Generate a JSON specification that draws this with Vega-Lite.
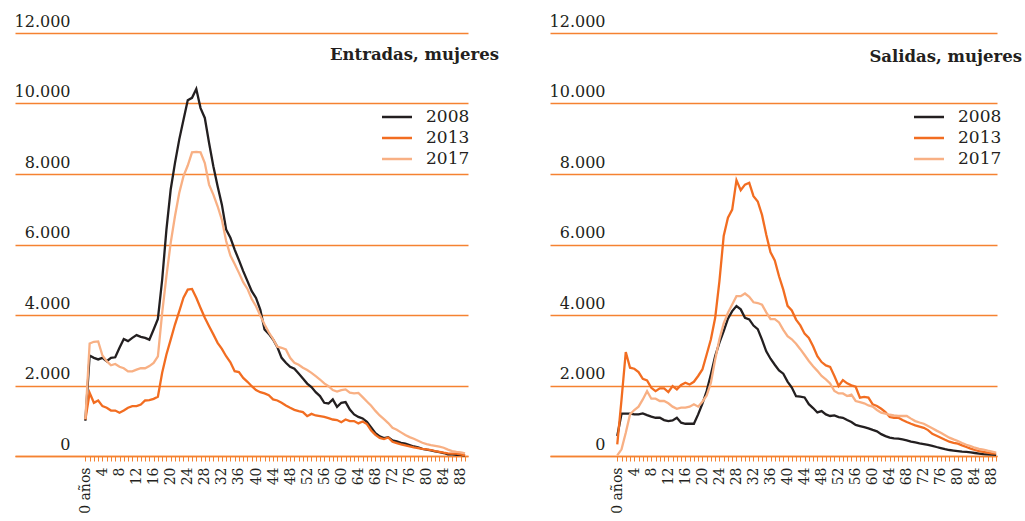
{
"$schema": "https://vega.github.io/schema/vega-lite/v6.json",
"background": "white",
"padding": {"left": 14, "top": 13, "right": 2, "bottom": 2},
"bounds": "flush",
"spacing": 82,
"config": {"view": {"stroke": null}, "font": "DejaVu Serif"},
"resolve": {"scale": {"x": "independent", "y": "independent", "color": "independent"}, "legend": {"color": "independent"}},
"datasets": {
"ent": [
{"a":0,"s":"2008","v":1000},{"a":1,"s":"2008","v":2850},{"a":2,"s":"2008","v":2785},{"a":3,"s":"2008","v":2740},{"a":4,"s":"2008","v":2785},{"a":5,"s":"2008","v":2690},{"a":6,"s":"2008","v":2785},{"a":7,"s":"2008","v":2800},{"a":8,"s":"2008","v":3070},{"a":9,"s":"2008","v":3320},
{"a":10,"s":"2008","v":3260},{"a":11,"s":"2008","v":3350},{"a":12,"s":"2008","v":3430},{"a":13,"s":"2008","v":3380},{"a":14,"s":"2008","v":3350},{"a":15,"s":"2008","v":3300},{"a":16,"s":"2008","v":3590},{"a":17,"s":"2008","v":3890},{"a":18,"s":"2008","v":5000},{"a":19,"s":"2008","v":6420},
{"a":20,"s":"2008","v":7560},{"a":21,"s":"2008","v":8310},{"a":22,"s":"2008","v":8975},{"a":23,"s":"2008","v":9540},{"a":24,"s":"2008","v":10090},{"a":25,"s":"2008","v":10160},{"a":26,"s":"2008","v":10410},{"a":27,"s":"2008","v":9870},{"a":28,"s":"2008","v":9590},{"a":29,"s":"2008","v":8880},
{"a":30,"s":"2008","v":8220},{"a":31,"s":"2008","v":7650},{"a":32,"s":"2008","v":7130},{"a":33,"s":"2008","v":6425},{"a":34,"s":"2008","v":6190},{"a":35,"s":"2008","v":5855},{"a":36,"s":"2008","v":5555},{"a":37,"s":"2008","v":5245},{"a":38,"s":"2008","v":4960},{"a":39,"s":"2008","v":4675},
{"a":40,"s":"2008","v":4485},{"a":41,"s":"2008","v":4155},{"a":42,"s":"2008","v":3590},{"a":43,"s":"2008","v":3465},{"a":44,"s":"2008","v":3305},{"a":45,"s":"2008","v":3090},{"a":46,"s":"2008","v":2785},{"a":47,"s":"2008","v":2645},{"a":48,"s":"2008","v":2530},{"a":49,"s":"2008","v":2475},
{"a":50,"s":"2008","v":2340},{"a":51,"s":"2008","v":2200},{"a":52,"s":"2008","v":2055},{"a":53,"s":"2008","v":1955},{"a":54,"s":"2008","v":1810},{"a":55,"s":"2008","v":1700},{"a":56,"s":"2008","v":1510},{"a":57,"s":"2008","v":1490},{"a":58,"s":"2008","v":1605},{"a":59,"s":"2008","v":1395},
{"a":60,"s":"2008","v":1510},{"a":61,"s":"2008","v":1530},{"a":62,"s":"2008","v":1320},{"a":63,"s":"2008","v":1180},{"a":64,"s":"2008","v":1110},{"a":65,"s":"2008","v":1065},{"a":66,"s":"2008","v":970},{"a":67,"s":"2008","v":810},{"a":68,"s":"2008","v":650},{"a":69,"s":"2008","v":555},
{"a":70,"s":"2008","v":510},{"a":71,"s":"2008","v":535},{"a":72,"s":"2008","v":440},{"a":73,"s":"2008","v":415},{"a":74,"s":"2008","v":375},{"a":75,"s":"2008","v":350},{"a":76,"s":"2008","v":310},{"a":77,"s":"2008","v":270},{"a":78,"s":"2008","v":245},{"a":79,"s":"2008","v":205},
{"a":80,"s":"2008","v":180},{"a":81,"s":"2008","v":160},{"a":82,"s":"2008","v":130},{"a":83,"s":"2008","v":110},{"a":84,"s":"2008","v":85},{"a":85,"s":"2008","v":45},{"a":86,"s":"2008","v":45},{"a":87,"s":"2008","v":35},{"a":88,"s":"2008","v":30},{"a":89,"s":"2008","v":10},
{"a":0,"s":"2013","v":1037},{"a":1,"s":"2013","v":1793},{"a":2,"s":"2013","v":1510},{"a":3,"s":"2013","v":1575},{"a":4,"s":"2013","v":1415},{"a":5,"s":"2013","v":1370},{"a":6,"s":"2013","v":1290},{"a":7,"s":"2013","v":1290},{"a":8,"s":"2013","v":1225},{"a":9,"s":"2013","v":1290},
{"a":10,"s":"2013","v":1370},{"a":11,"s":"2013","v":1415},{"a":12,"s":"2013","v":1415},{"a":13,"s":"2013","v":1460},{"a":14,"s":"2013","v":1575},{"a":15,"s":"2013","v":1585},{"a":16,"s":"2013","v":1620},{"a":17,"s":"2013","v":1680},{"a":18,"s":"2013","v":2360},{"a":19,"s":"2013","v":2880},
{"a":20,"s":"2013","v":3300},{"a":21,"s":"2013","v":3730},{"a":22,"s":"2013","v":4100},{"a":23,"s":"2013","v":4490},{"a":24,"s":"2013","v":4720},{"a":25,"s":"2013","v":4740},{"a":26,"s":"2013","v":4490},{"a":27,"s":"2013","v":4200},{"a":28,"s":"2013","v":3920},{"a":29,"s":"2013","v":3680},
{"a":30,"s":"2013","v":3450},{"a":31,"s":"2013","v":3210},{"a":32,"s":"2013","v":3040},{"a":33,"s":"2013","v":2830},{"a":34,"s":"2013","v":2660},{"a":35,"s":"2013","v":2405},{"a":36,"s":"2013","v":2380},{"a":37,"s":"2013","v":2215},{"a":38,"s":"2013","v":2105},{"a":39,"s":"2013","v":1980},
{"a":40,"s":"2013","v":1870},{"a":41,"s":"2013","v":1810},{"a":42,"s":"2013","v":1775},{"a":43,"s":"2013","v":1725},{"a":44,"s":"2013","v":1605},{"a":45,"s":"2013","v":1575},{"a":46,"s":"2013","v":1510},{"a":47,"s":"2013","v":1435},{"a":48,"s":"2013","v":1370},{"a":49,"s":"2013","v":1310},
{"a":50,"s":"2013","v":1275},{"a":51,"s":"2013","v":1245},{"a":52,"s":"2013","v":1130},{"a":53,"s":"2013","v":1195},{"a":54,"s":"2013","v":1150},{"a":55,"s":"2013","v":1130},{"a":56,"s":"2013","v":1110},{"a":57,"s":"2013","v":1075},{"a":58,"s":"2013","v":1035},{"a":59,"s":"2013","v":1020},
{"a":60,"s":"2013","v":960},{"a":61,"s":"2013","v":1035},{"a":62,"s":"2013","v":990},{"a":63,"s":"2013","v":990},{"a":64,"s":"2013","v":925},{"a":65,"s":"2013","v":980},{"a":66,"s":"2013","v":905},{"a":67,"s":"2013","v":725},{"a":68,"s":"2013","v":600},{"a":69,"s":"2013","v":515},
{"a":70,"s":"2013","v":480},{"a":71,"s":"2013","v":525},{"a":72,"s":"2013","v":405},{"a":73,"s":"2013","v":365},{"a":74,"s":"2013","v":330},{"a":75,"s":"2013","v":300},{"a":76,"s":"2013","v":270},{"a":77,"s":"2013","v":245},{"a":78,"s":"2013","v":225},{"a":79,"s":"2013","v":205},
{"a":80,"s":"2013","v":190},{"a":81,"s":"2013","v":170},{"a":82,"s":"2013","v":140},{"a":83,"s":"2013","v":120},{"a":84,"s":"2013","v":95},{"a":85,"s":"2013","v":75},{"a":86,"s":"2013","v":65},{"a":87,"s":"2013","v":65},{"a":88,"s":"2013","v":45},{"a":89,"s":"2013","v":20},
{"a":0,"s":"2017","v":1050},{"a":1,"s":"2017","v":3190},{"a":2,"s":"2017","v":3240},{"a":3,"s":"2017","v":3250},{"a":4,"s":"2017","v":2850},{"a":5,"s":"2017","v":2690},{"a":6,"s":"2017","v":2575},{"a":7,"s":"2017","v":2610},{"a":8,"s":"2017","v":2530},{"a":9,"s":"2017","v":2490},
{"a":10,"s":"2017","v":2400},{"a":11,"s":"2017","v":2400},{"a":12,"s":"2017","v":2450},{"a":13,"s":"2017","v":2490},{"a":14,"s":"2017","v":2490},{"a":15,"s":"2017","v":2550},{"a":16,"s":"2017","v":2640},{"a":17,"s":"2017","v":2830},{"a":18,"s":"2017","v":4060},{"a":19,"s":"2017","v":5100},
{"a":20,"s":"2017","v":6045},{"a":21,"s":"2017","v":6800},{"a":22,"s":"2017","v":7460},{"a":23,"s":"2017","v":7940},{"a":24,"s":"2017","v":8240},{"a":25,"s":"2017","v":8615},{"a":26,"s":"2017","v":8625},{"a":27,"s":"2017","v":8615},{"a":28,"s":"2017","v":8310},{"a":29,"s":"2017","v":7700},
{"a":30,"s":"2017","v":7415},{"a":31,"s":"2017","v":7085},{"a":32,"s":"2017","v":6700},{"a":33,"s":"2017","v":6100},{"a":34,"s":"2017","v":5685},{"a":35,"s":"2017","v":5450},{"a":36,"s":"2017","v":5195},{"a":37,"s":"2017","v":4930},{"a":38,"s":"2017","v":4740},{"a":39,"s":"2017","v":4455},
{"a":40,"s":"2017","v":4250},{"a":41,"s":"2017","v":3985},{"a":42,"s":"2017","v":3730},{"a":43,"s":"2017","v":3510},{"a":44,"s":"2017","v":3320},{"a":45,"s":"2017","v":3100},{"a":46,"s":"2017","v":3070},{"a":47,"s":"2017","v":3025},{"a":48,"s":"2017","v":2785},{"a":49,"s":"2017","v":2645},
{"a":50,"s":"2017","v":2590},{"a":51,"s":"2017","v":2505},{"a":52,"s":"2017","v":2440},{"a":53,"s":"2017","v":2360},{"a":54,"s":"2017","v":2265},{"a":55,"s":"2017","v":2170},{"a":56,"s":"2017","v":2060},{"a":57,"s":"2017","v":1980},{"a":58,"s":"2017","v":1870},{"a":59,"s":"2017","v":1830},
{"a":60,"s":"2017","v":1870},{"a":61,"s":"2017","v":1890},{"a":62,"s":"2017","v":1795},{"a":63,"s":"2017","v":1775},{"a":64,"s":"2017","v":1790},{"a":65,"s":"2017","v":1670},{"a":66,"s":"2017","v":1545},{"a":67,"s":"2017","v":1425},{"a":68,"s":"2017","v":1280},{"a":69,"s":"2017","v":1150},
{"a":70,"s":"2017","v":1045},{"a":71,"s":"2017","v":935},{"a":72,"s":"2017","v":800},{"a":73,"s":"2017","v":745},{"a":74,"s":"2017","v":670},{"a":75,"s":"2017","v":595},{"a":76,"s":"2017","v":535},{"a":77,"s":"2017","v":490},{"a":78,"s":"2017","v":435},{"a":79,"s":"2017","v":375},
{"a":80,"s":"2017","v":340},{"a":81,"s":"2017","v":310},{"a":82,"s":"2017","v":290},{"a":83,"s":"2017","v":265},{"a":84,"s":"2017","v":235},{"a":85,"s":"2017","v":180},{"a":86,"s":"2017","v":140},{"a":87,"s":"2017","v":120},{"a":88,"s":"2017","v":105},{"a":89,"s":"2017","v":75}
],
"sal": [
{"a":0,"s":"2008","v":565},{"a":1,"s":"2008","v":1200},{"a":2,"s":"2008","v":1200},{"a":3,"s":"2008","v":1200},{"a":4,"s":"2008","v":1180},{"a":5,"s":"2008","v":1180},{"a":6,"s":"2008","v":1210},{"a":7,"s":"2008","v":1160},{"a":8,"s":"2008","v":1115},{"a":9,"s":"2008","v":1085},
{"a":10,"s":"2008","v":1085},{"a":11,"s":"2008","v":1020},{"a":12,"s":"2008","v":990},{"a":13,"s":"2008","v":1010},{"a":14,"s":"2008","v":1085},{"a":15,"s":"2008","v":945},{"a":16,"s":"2008","v":915},{"a":17,"s":"2008","v":915},{"a":18,"s":"2008","v":915},{"a":19,"s":"2008","v":1180},
{"a":20,"s":"2008","v":1485},{"a":21,"s":"2008","v":1840},{"a":22,"s":"2008","v":2315},{"a":23,"s":"2008","v":2835},{"a":24,"s":"2008","v":3215},{"a":25,"s":"2008","v":3545},{"a":26,"s":"2008","v":3895},{"a":27,"s":"2008","v":4110},{"a":28,"s":"2008","v":4255},{"a":29,"s":"2008","v":4160},
{"a":30,"s":"2008","v":3920},{"a":31,"s":"2008","v":3875},{"a":32,"s":"2008","v":3700},{"a":33,"s":"2008","v":3600},{"a":34,"s":"2008","v":3300},{"a":35,"s":"2008","v":2970},{"a":36,"s":"2008","v":2760},{"a":37,"s":"2008","v":2590},{"a":38,"s":"2008","v":2430},{"a":39,"s":"2008","v":2335},
{"a":40,"s":"2008","v":2110},{"a":41,"s":"2008","v":1940},{"a":42,"s":"2008","v":1695},{"a":43,"s":"2008","v":1685},{"a":44,"s":"2008","v":1660},{"a":45,"s":"2008","v":1470},{"a":46,"s":"2008","v":1360},{"a":47,"s":"2008","v":1235},{"a":48,"s":"2008","v":1275},{"a":49,"s":"2008","v":1180},
{"a":50,"s":"2008","v":1135},{"a":51,"s":"2008","v":1150},{"a":52,"s":"2008","v":1105},{"a":53,"s":"2008","v":1085},{"a":54,"s":"2008","v":1020},{"a":55,"s":"2008","v":965},{"a":56,"s":"2008","v":880},{"a":57,"s":"2008","v":850},{"a":58,"s":"2008","v":820},{"a":59,"s":"2008","v":785},
{"a":60,"s":"2008","v":740},{"a":61,"s":"2008","v":700},{"a":62,"s":"2008","v":620},{"a":63,"s":"2008","v":565},{"a":64,"s":"2008","v":520},{"a":65,"s":"2008","v":500},{"a":66,"s":"2008","v":490},{"a":67,"s":"2008","v":470},{"a":68,"s":"2008","v":445},{"a":69,"s":"2008","v":410},
{"a":70,"s":"2008","v":385},{"a":71,"s":"2008","v":360},{"a":72,"s":"2008","v":340},{"a":73,"s":"2008","v":315},{"a":74,"s":"2008","v":290},{"a":75,"s":"2008","v":255},{"a":76,"s":"2008","v":225},{"a":77,"s":"2008","v":195},{"a":78,"s":"2008","v":170},{"a":79,"s":"2008","v":155},
{"a":80,"s":"2008","v":140},{"a":81,"s":"2008","v":125},{"a":82,"s":"2008","v":115},{"a":83,"s":"2008","v":100},{"a":84,"s":"2008","v":85},{"a":85,"s":"2008","v":70},{"a":86,"s":"2008","v":55},{"a":87,"s":"2008","v":45},{"a":88,"s":"2008","v":40},{"a":89,"s":"2008","v":30},
{"a":0,"s":"2013","v":330},{"a":1,"s":"2013","v":1600},{"a":2,"s":"2013","v":2950},{"a":3,"s":"2013","v":2505},{"a":4,"s":"2013","v":2475},{"a":5,"s":"2013","v":2380},{"a":6,"s":"2013","v":2190},{"a":7,"s":"2013","v":2145},{"a":8,"s":"2013","v":1935},{"a":9,"s":"2013","v":1840},
{"a":10,"s":"2013","v":1920},{"a":11,"s":"2013","v":1920},{"a":12,"s":"2013","v":1815},{"a":13,"s":"2013","v":1985},{"a":14,"s":"2013","v":1890},{"a":15,"s":"2013","v":2015},{"a":16,"s":"2013","v":2080},{"a":17,"s":"2013","v":2030},{"a":18,"s":"2013","v":2105},{"a":19,"s":"2013","v":2270},
{"a":20,"s":"2013","v":2455},{"a":21,"s":"2013","v":2880},{"a":22,"s":"2013","v":3310},{"a":23,"s":"2013","v":3920},{"a":24,"s":"2013","v":4960},{"a":25,"s":"2013","v":6240},{"a":26,"s":"2013","v":6760},{"a":27,"s":"2013","v":6990},{"a":28,"s":"2013","v":7825},{"a":29,"s":"2013","v":7540},
{"a":30,"s":"2013","v":7700},{"a":31,"s":"2013","v":7750},{"a":32,"s":"2013","v":7370},{"a":33,"s":"2013","v":7220},{"a":34,"s":"2013","v":6840},{"a":35,"s":"2013","v":6275},{"a":36,"s":"2013","v":5780},{"a":37,"s":"2013","v":5550},{"a":38,"s":"2013","v":5100},{"a":39,"s":"2013","v":4720},
{"a":40,"s":"2013","v":4260},{"a":41,"s":"2013","v":4130},{"a":42,"s":"2013","v":3870},{"a":43,"s":"2013","v":3705},{"a":44,"s":"2013","v":3470},{"a":45,"s":"2013","v":3350},{"a":46,"s":"2013","v":3115},{"a":47,"s":"2013","v":2830},{"a":48,"s":"2013","v":2665},{"a":49,"s":"2013","v":2570},
{"a":50,"s":"2013","v":2530},{"a":51,"s":"2013","v":2270},{"a":52,"s":"2013","v":1985},{"a":53,"s":"2013","v":2155},{"a":54,"s":"2013","v":2060},{"a":55,"s":"2013","v":2005},{"a":56,"s":"2013","v":1965},{"a":57,"s":"2013","v":1655},{"a":58,"s":"2013","v":1675},{"a":59,"s":"2013","v":1655},
{"a":60,"s":"2013","v":1465},{"a":61,"s":"2013","v":1420},{"a":62,"s":"2013","v":1340},{"a":63,"s":"2013","v":1245},{"a":64,"s":"2013","v":1105},{"a":65,"s":"2013","v":1085},{"a":66,"s":"2013","v":1085},{"a":67,"s":"2013","v":1020},{"a":68,"s":"2013","v":965},{"a":69,"s":"2013","v":915},
{"a":70,"s":"2013","v":870},{"a":71,"s":"2013","v":835},{"a":72,"s":"2013","v":800},{"a":73,"s":"2013","v":735},{"a":74,"s":"2013","v":630},{"a":75,"s":"2013","v":575},{"a":76,"s":"2013","v":520},{"a":77,"s":"2013","v":460},{"a":78,"s":"2013","v":405},{"a":79,"s":"2013","v":375},
{"a":80,"s":"2013","v":350},{"a":81,"s":"2013","v":300},{"a":82,"s":"2013","v":255},{"a":83,"s":"2013","v":210},{"a":84,"s":"2013","v":170},{"a":85,"s":"2013","v":140},{"a":86,"s":"2013","v":115},{"a":87,"s":"2013","v":95},{"a":88,"s":"2013","v":75},{"a":89,"s":"2013","v":65},
{"a":0,"s":"2017","v":20},{"a":1,"s":"2017","v":190},{"a":2,"s":"2017","v":660},{"a":3,"s":"2017","v":1180},{"a":4,"s":"2017","v":1305},{"a":5,"s":"2017","v":1400},{"a":6,"s":"2017","v":1605},{"a":7,"s":"2017","v":1840},{"a":8,"s":"2017","v":1625},{"a":9,"s":"2017","v":1625},
{"a":10,"s":"2017","v":1560},{"a":11,"s":"2017","v":1560},{"a":12,"s":"2017","v":1495},{"a":13,"s":"2017","v":1400},{"a":14,"s":"2017","v":1340},{"a":15,"s":"2017","v":1370},{"a":16,"s":"2017","v":1370},{"a":17,"s":"2017","v":1400},{"a":18,"s":"2017","v":1465},{"a":19,"s":"2017","v":1400},
{"a":20,"s":"2017","v":1540},{"a":21,"s":"2017","v":1720},{"a":22,"s":"2017","v":2080},{"a":23,"s":"2017","v":2740},{"a":24,"s":"2017","v":3310},{"a":25,"s":"2017","v":3760},{"a":26,"s":"2017","v":4065},{"a":27,"s":"2017","v":4300},{"a":28,"s":"2017","v":4535},{"a":29,"s":"2017","v":4535},
{"a":30,"s":"2017","v":4610},{"a":31,"s":"2017","v":4515},{"a":32,"s":"2017","v":4360},{"a":33,"s":"2017","v":4340},{"a":34,"s":"2017","v":4290},{"a":35,"s":"2017","v":4075},{"a":36,"s":"2017","v":3885},{"a":37,"s":"2017","v":3885},{"a":38,"s":"2017","v":3790},{"a":39,"s":"2017","v":3580},
{"a":40,"s":"2017","v":3400},{"a":41,"s":"2017","v":3310},{"a":42,"s":"2017","v":3185},{"a":43,"s":"2017","v":3030},{"a":44,"s":"2017","v":2865},{"a":45,"s":"2017","v":2695},{"a":46,"s":"2017","v":2545},{"a":47,"s":"2017","v":2415},{"a":48,"s":"2017","v":2270},{"a":49,"s":"2017","v":2175},
{"a":50,"s":"2017","v":2060},{"a":51,"s":"2017","v":1845},{"a":52,"s":"2017","v":1775},{"a":53,"s":"2017","v":1775},{"a":54,"s":"2017","v":1700},{"a":55,"s":"2017","v":1740},{"a":56,"s":"2017","v":1560},{"a":57,"s":"2017","v":1530},{"a":58,"s":"2017","v":1495},{"a":59,"s":"2017","v":1435},
{"a":60,"s":"2017","v":1400},{"a":61,"s":"2017","v":1305},{"a":62,"s":"2017","v":1230},{"a":63,"s":"2017","v":1200},{"a":64,"s":"2017","v":1170},{"a":65,"s":"2017","v":1150},{"a":66,"s":"2017","v":1135},{"a":67,"s":"2017","v":1135},{"a":68,"s":"2017","v":1135},{"a":69,"s":"2017","v":1060},
{"a":70,"s":"2017","v":990},{"a":71,"s":"2017","v":950},{"a":72,"s":"2017","v":915},{"a":73,"s":"2017","v":850},{"a":74,"s":"2017","v":785},{"a":75,"s":"2017","v":720},{"a":76,"s":"2017","v":660},{"a":77,"s":"2017","v":590},{"a":78,"s":"2017","v":520},{"a":79,"s":"2017","v":470},
{"a":80,"s":"2017","v":425},{"a":81,"s":"2017","v":370},{"a":82,"s":"2017","v":320},{"a":83,"s":"2017","v":280},{"a":84,"s":"2017","v":235},{"a":85,"s":"2017","v":205},{"a":86,"s":"2017","v":180},{"a":87,"s":"2017","v":150},{"a":88,"s":"2017","v":125},{"a":89,"s":"2017","v":95}
]
},
"hconcat": [
{
"width": 453, "height": 423,
"data": {"name": "ent"},
"title": {"text": "Entradas, mujeres", "anchor": "end", "frame": "group", "orient": "top", "offset": -63, "dx": 31, "baseline": "alphabetic", "font": "DejaVu Serif", "fontSize": 16.5, "fontWeight": "bold", "color": "#231f20"},
"mark": {"type": "line", "strokeWidth": 2.3},
"encoding": {
"x": {"field": "a", "type": "quantitative", "scale": {"domain": [-16.5, 89.7], "nice": false, "zero": false},
 "axis": {"values": [0,1,2,3,4,5,6,7,8,9,10,11,12,13,14,15,16,17,18,19,20,21,22,23,24,25,26,27,28,29,30,31,32,33,34,35,36,37,38,39,40,41,42,43,44,45,46,47,48,49,50,51,52,53,54,55,56,57,58,59,60,61,62,63,64,65,66,67,68,69,70,71,72,73,74,75,76,77,78,79,80,81,82,83,84,85,86,87,88,89],
  "labelExpr": "datum.value == 0 ? '0 años' : (datum.value % 4 == 0 ? datum.label : '')",
  "labelAngle": -90, "labelFont": "DejaVu Serif", "labelFontSize": 14, "labelColor": "#231f20", "labelPadding": 6,
  "labelFlush": false, "labelOverlap": false, "labelBound": false,
  "tickColor": "#f58231", "tickSize": 5, "tickWidth": 1, "domainColor": "#f58231", "domainWidth": 1.5, "grid": false, "title": null}},
"y": {"field": "v", "type": "quantitative", "scale": {"domain": [0, 12000], "nice": false},
 "axis": {"values": [0,2000,4000,6000,8000,10000,12000], "labelExpr": "replace(format(datum.value, ','), ',', '.')",
  "grid": true, "gridColor": "#f58231", "gridWidth": 1.3, "domain": false, "ticks": false, "tickSize": 0,
  "labelAlign": "right", "labelBaseline": "alphabetic", "labelPadding": -55, "labelOffset": -7,
  "labelFont": "DejaVu Serif", "labelFontSize": 16, "labelColor": "#231f20", "labelOverlap": false, "labelFlush": false, "title": null}},
"color": {"field": "s", "type": "nominal", "scale": {"domain": ["2008","2013","2017"], "range": ["#231f20","#f26d21","#f8b084"]},
 "legend": {"orient": "none", "legendX": 373, "legendY": 75, "title": null, "symbolType": "M-2,0H2", "symbolSize": 225, "symbolStrokeWidth": 2.5,
  "labelFont": "DejaVu Serif", "labelFontSize": 17, "labelColor": "#231f20", "labelOffset": 20, "rowPadding": 4}}
}
},
{
"width": 447, "height": 423,
"data": {"name": "sal"},
"title": {"text": "Salidas, mujeres", "anchor": "end", "frame": "group", "orient": "top", "offset": -65, "dx": 25, "baseline": "alphabetic", "font": "DejaVu Serif", "fontSize": 16.5, "fontWeight": "bold", "color": "#231f20"},
"mark": {"type": "line", "strokeWidth": 2.3},
"encoding": {
"x": {"field": "a", "type": "quantitative", "scale": {"domain": [-15.8, 89.2], "nice": false, "zero": false},
 "axis": {"values": [0,1,2,3,4,5,6,7,8,9,10,11,12,13,14,15,16,17,18,19,20,21,22,23,24,25,26,27,28,29,30,31,32,33,34,35,36,37,38,39,40,41,42,43,44,45,46,47,48,49,50,51,52,53,54,55,56,57,58,59,60,61,62,63,64,65,66,67,68,69,70,71,72,73,74,75,76,77,78,79,80,81,82,83,84,85,86,87,88,89],
  "labelExpr": "datum.value == 0 ? '0 años' : (datum.value % 4 == 0 ? datum.label : '')",
  "labelAngle": -90, "labelFont": "DejaVu Serif", "labelFontSize": 14, "labelColor": "#231f20", "labelPadding": 6,
  "labelFlush": false, "labelOverlap": false, "labelBound": false,
  "tickColor": "#f58231", "tickSize": 5, "tickWidth": 1, "domainColor": "#f58231", "domainWidth": 1.5, "grid": false, "title": null}},
"y": {"field": "v", "type": "quantitative", "scale": {"domain": [0, 12000], "nice": false},
 "axis": {"values": [0,2000,4000,6000,8000,10000,12000], "labelExpr": "replace(format(datum.value, ','), ',', '.')",
  "grid": true, "gridColor": "#f58231", "gridWidth": 1.3, "domain": false, "ticks": false, "tickSize": 0,
  "labelAlign": "right", "labelBaseline": "alphabetic", "labelPadding": -55, "labelOffset": -7,
  "labelFont": "DejaVu Serif", "labelFontSize": 16, "labelColor": "#231f20", "labelOverlap": false, "labelFlush": false, "title": null}},
"color": {"field": "s", "type": "nominal", "scale": {"domain": ["2008","2013","2017"], "range": ["#231f20","#f26d21","#f8b084"]},
 "legend": {"orient": "none", "legendX": 370, "legendY": 75, "title": null, "symbolType": "M-2,0H2", "symbolSize": 225, "symbolStrokeWidth": 2.5,
  "labelFont": "DejaVu Serif", "labelFontSize": 17, "labelColor": "#231f20", "labelOffset": 20, "rowPadding": 4}}
}
}
]
}
